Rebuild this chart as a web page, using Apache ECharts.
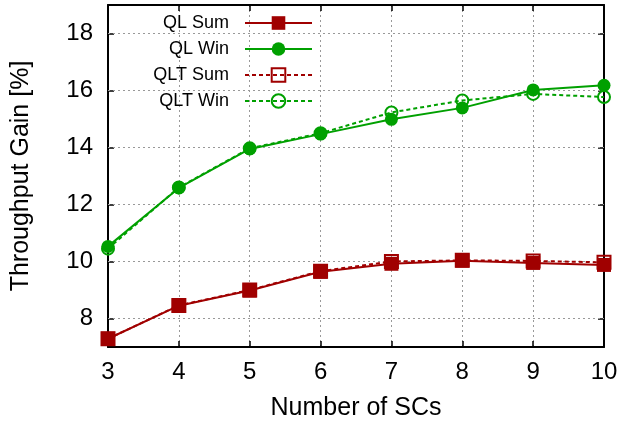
<!DOCTYPE html>
<html>
<head>
<meta charset="utf-8">
<script src="https://cdn.jsdelivr.net/npm/echarts@6/dist/echarts.min.js"></script>
<style>html,body{margin:0;padding:0;background:#fff}#c{width:621px;height:426px}</style>
</head>
<body>
<div id="c"></div>
<script>
const xValues = [3, 4, 5, 6, 7, 8, 9, 10];
const qlSum  = [7.29, 8.45, 8.98, 9.64, 9.92, 10.03, 9.95, 9.88];
const qlWin  = [10.53, 12.58, 13.95, 14.47, 14.99, 15.39, 16.02, 16.18];
const qltSum = [7.29, 8.46, 9.00, 9.66, 10.00, 10.04, 10.02, 9.97];
const qltWin = [10.45, 12.60, 13.97, 14.50, 15.23, 15.65, 15.88, 15.77];
const yTicks = [8, 10, 12, 14, 16, 18];
const seriesNames = ['QL Sum', 'QL Win', 'QLT Sum', 'QLT Win'];

const RED = '#a00000', GREEN = '#00a000';
const FONT = 'Liberation Sans, Arial, Helvetica, sans-serif';
const pairs = arr => xValues.map((x, i) => [x, arr[i]]);

const chart = echarts.init(document.getElementById('c'), null, {renderer: 'canvas'});
const gridLine = {type: [2, 3], color: '#999', width: 1};

chart.setOption({
  animation: false,
  backgroundColor: '#fff',
  textStyle: {fontFamily: FONT},
  grid: {left: 108, right: 17, top: 5, bottom: 78},
  legend: {
    data: seriesNames,
    orient: 'vertical',
    align: 'right',
    left: 109,
    top: 14,
    padding: 0,
    itemGap: 8,
    itemWidth: 67,
    itemHeight: 17,
    selectedMode: false,
    textStyle: {fontFamily: FONT, fontSize: 18, color: '#000', width: 120, align: 'right', lineHeight: 17, padding: [0, 11, 0, 0]}
  },
  xAxis: [{
    type: 'value', min: 3, max: 10, interval: 1,
    name: 'Number of SCs', nameLocation: 'middle', nameGap: 49,
    nameTextStyle: {fontSize: 25, color: '#000', fontFamily: FONT},
    axisLine: {show: true, lineStyle: {color: '#000', width: 2}},
    axisTick: {show: true, inside: true, length: 6, lineStyle: {color: '#000', width: 1.5}},
    axisLabel: {fontSize: 24, color: '#000', margin: 13, fontFamily: FONT},
    splitLine: {show: true, lineStyle: gridLine}
  }, {
    type: 'value', min: 3, max: 10, interval: 1, position: 'top',
    axisLine: {show: true, onZero: false, lineStyle: {color: '#000', width: 2}},
    axisTick: {show: true, inside: true, length: 6, lineStyle: {color: '#000', width: 1.5}},
    axisLabel: {show: false}, splitLine: {show: false}
  }],
  yAxis: [{
    type: 'value', min: 7, max: 19, interval: 1,
    name: 'Throughput Gain [%]', nameLocation: 'middle', nameGap: 74,
    nameTextStyle: {fontSize: 25, color: '#000', fontFamily: FONT},
    axisLine: {show: true, lineStyle: {color: '#000', width: 2}},
    axisTick: {show: true, inside: true, length: 6, customValues: yTicks, lineStyle: {color: '#000', width: 1.5}},
    axisLabel: {fontSize: 24, color: '#000', margin: 15, customValues: yTicks, fontFamily: FONT},
    splitLine: {show: false}
  }, {
    type: 'value', min: 7, max: 19, interval: 1, position: 'right',
    axisLine: {show: true, onZero: false, lineStyle: {color: '#000', width: 2}},
    axisTick: {show: true, inside: true, length: 6, customValues: yTicks, lineStyle: {color: '#000', width: 1.5}},
    axisLabel: {show: false}, splitLine: {show: false}
  }],
  series: [
    {
      name: 'QL Sum', type: 'line', data: pairs(qlSum), z: 4,
      symbol: 'rect', symbolSize: 14,
      lineStyle: {color: RED, width: 2},
      itemStyle: {color: RED},
      markLine: {
        silent: true, symbol: 'none', label: {show: false}, animation: false,
        lineStyle: gridLine, z: 1,
        data: yTicks.map(v => ({yAxis: v}))
      }
    },
    {
      name: 'QL Win', type: 'line', data: pairs(qlWin), z: 4,
      symbol: 'circle', symbolSize: 13,
      lineStyle: {color: GREEN, width: 2},
      itemStyle: {color: GREEN}
    },
    {
      name: 'QLT Sum', type: 'line', data: pairs(qltSum), z: 3,
      symbol: 'rect', symbolSize: 13,
      lineStyle: {color: RED, width: 2, type: [4, 3]},
      itemStyle: {color: 'rgba(255,255,255,0)', borderColor: RED, borderWidth: 2}
    },
    {
      name: 'QLT Win', type: 'line', data: pairs(qltWin), z: 3,
      symbol: 'circle', symbolSize: 12,
      lineStyle: {color: GREEN, width: 2, type: [4, 3]},
      itemStyle: {color: 'rgba(255,255,255,0)', borderColor: GREEN, borderWidth: 2}
    }
  ]
});
</script>
</body>
</html>
